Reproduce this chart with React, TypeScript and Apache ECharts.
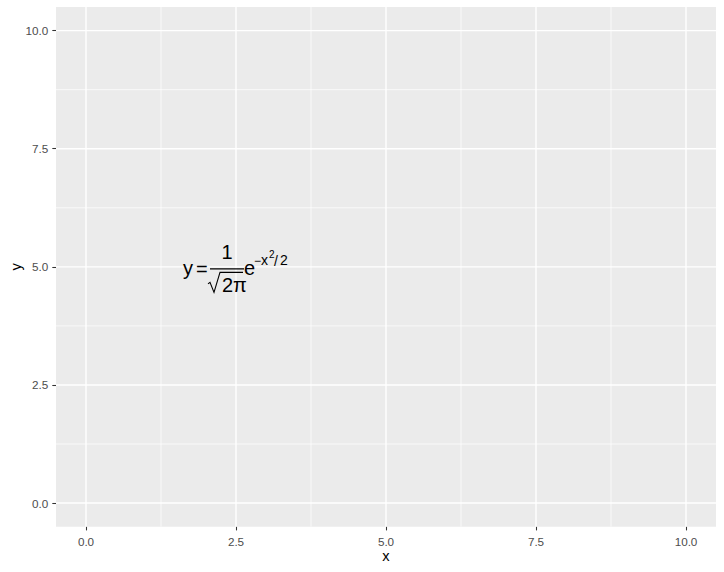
import React, { useEffect, useRef } from "react";
import * as echarts from "echarts";

// ---- data ----
const xLimits = [-0.5, 10.5];
const yLimits = [-0.5, 10.5];
const xBreaks = [0, 2.5, 5, 7.5, 10];
const yBreaks = [0, 2.5, 5, 7.5, 10];
const xMinorBreaks = [1.25, 3.75, 6.25, 8.75];
const yMinorBreaks = [1.25, 3.75, 6.25, 8.75];
const annotationPoint = [[2.5, 5]];
const xTitle = "x";
const yTitle = "y";

const FONT = "'Liberation Sans', Arial, sans-serif";
const F = 20; // main expression font size
const FS = 14; // superscript
const FSS = 10; // superscript of superscript

function txt(text: string, x: number, yBase: number, size: number, align = "left") {
  const y = yBase - 0.3465 * size;
  return {
    type: "text",
    x: 0,
    y: 0,
    style: {
      text,
      x,
      y,
      fill: "#000000",
      fontSize: size,
      fontFamily: FONT,
      align,
      textAlign: align,
      verticalAlign: "middle",
      textVerticalAlign: "middle",
    },
  };
}

function gridLineSeries(values: number[], vertical: boolean, width: number) {
  return {
    type: "custom",
    silent: true,
    z: 1,
    data: values.map((v) => (vertical ? [v, yLimits[0]] : [xLimits[0], v])),
    renderItem: (params: any, api: any) => {
      const cs = params.coordSys;
      if (vertical) {
        const px = api.coord([api.value(0), yLimits[0]])[0];
        return {
          type: "line",
          shape: { x1: px, y1: cs.y, x2: px, y2: cs.y + cs.height },
          style: { stroke: "#FFFFFF", lineWidth: width },
        };
      }
      const py = api.coord([xLimits[0], api.value(1)])[1];
      return {
        type: "line",
        shape: { x1: cs.x, y1: py, x2: cs.x + cs.width, y2: py },
        style: { stroke: "#FFFFFF", lineWidth: width },
      };
    },
  };
}

export default function App() {
  const ref = useRef<HTMLDivElement>(null);
  useEffect(() => {
    if (!ref.current) return;
    const chart = echarts.init(ref.current, undefined, { renderer: "svg" });
    const axisCommon = {
      type: "value",
      axisLine: { show: false, onZero: false },
      splitLine: { show: false },
      nameLocation: "middle",
      nameMoveOverlap: false,
      nameTextStyle: { color: "#000000", fontSize: 14.7, fontFamily: FONT },
    };
    chart.setOption({
      animation: false,
      backgroundColor: "#FFFFFF",
      grid: {
        left: 56,
        right: 8,
        top: 7,
        bottom: 45.3,
        show: true,
        containLabel: false,
        outerBoundsMode: "none",
        backgroundColor: "#EBEBEB",
        borderWidth: 0,
      },
      xAxis: {
        ...axisCommon,
        min: xLimits[0],
        max: xLimits[1],
        name: xTitle,
        nameGap: 21.5,
        axisTick: { show: true, customValues: xBreaks, length: 3.7, lineStyle: { color: "#333333", width: 1.07 } },
        axisLabel: {
          customValues: xBreaks,
          formatter: (v: number) => v.toFixed(1),
          color: "#4D4D4D",
          fontSize: 11.7,
          fontFamily: FONT,
          margin: 8.5,
        },
      },
      yAxis: {
        ...axisCommon,
        min: yLimits[0],
        max: yLimits[1],
        name: yTitle,
        nameGap: 33,
        axisTick: { show: true, customValues: yBreaks, length: 3.7, lineStyle: { color: "#333333", width: 1.07 } },
        axisLabel: {
          customValues: yBreaks,
          formatter: (v: number) => v.toFixed(1),
          color: "#4D4D4D",
          fontSize: 11.7,
          fontFamily: FONT,
          margin: 7.7,
        },
      },
      series: [
        gridLineSeries(xMinorBreaks, true, 0.71),
        gridLineSeries(yMinorBreaks, false, 0.71),
        gridLineSeries(xBreaks, true, 1.42),
        gridLineSeries(yBreaks, false, 1.42),
        {
          type: "custom",
          silent: true,
          z: 5,
          data: annotationPoint,
          renderItem: (params: any, api: any) => {
            const [cx, cy] = api.coord([api.value(0), api.value(1)]);
            return {
              type: "group",
              x: cx,
              y: cy,
              children: [
                txt("y", -53, 8, F),
                txt("=", -40, 9, F),
                {
                  type: "line",
                  shape: { x1: -26, y1: 2, x2: 8, y2: 2 },
                  style: { stroke: "#000000", lineWidth: 1.1 },
                },
                txt("1", -9, -8, F, "center"),
                {
                  type: "polyline",
                  shape: { points: [[-28, 17], [-26, 15.5], [-22, 25.5], [-16, 5.5], [7, 5.5]] },
                  style: { stroke: "#000000", fill: null, lineWidth: 1.1 },
                },
                txt("2π", -14, 25, F),
                txt("e", 8, 8, F),
                txt("−", 18, -2, 12),
                txt("x", 25, -2, FS),
                txt("2", 33, -8.5, FSS),
                txt("/", 38, -1, FS),
                txt("2", 44, -2, FS),
              ],
            };
          },
        },
      ],
    });
    return () => chart.dispose();
  }, []);
  return <div ref={ref} style={{ position: "fixed", left: 0, top: 0, width: 724, height: 572 }} />;
}
